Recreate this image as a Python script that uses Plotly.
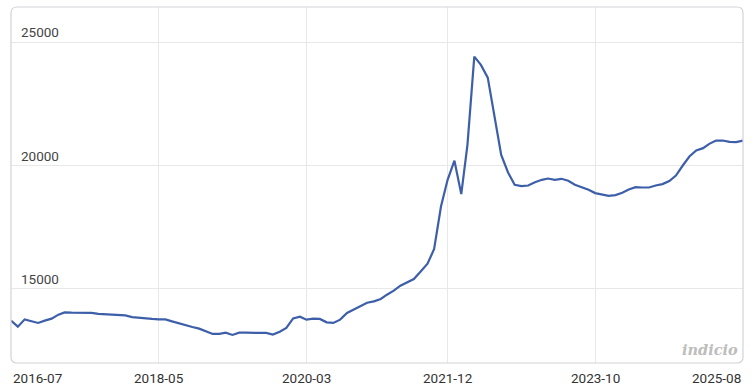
import plotly.graph_objects as go
import pandas as pd

start_month = "2016-07-01"
values = [
    13717, 13474, 13769, 13688, 13623, 13716, 13797, 13959, 14053, 14040,
    14040, 14050, 14028, 13988, 13972, 13959, 13947, 13931, 13860, 13826,
    13797, 13785, 13769, 13769, 13688, 13607, 13514, 13461, 13393, 13299,
    13178, 13178, 13231, 13137, 13231, 13231, 13210, 13218, 13218, 13150,
    13271, 13421, 13810, 13878, 13757, 13797, 13785, 13648, 13623, 13757,
    14028, 14162, 14324, 14445, 14498, 14595, 14769, 14931, 15134, 15267,
    15405, 15713, 16024, 16620, 18344, 19425, 20200, 18846, 20843, 24418,
    24082, 23568, 21988, 20438, 19721, 19223, 19170, 19195, 19328, 19425,
    19478, 19425, 19466, 19385, 19223, 19130, 19020, 18887, 18847, 18778,
    18806, 18899, 19033, 19130, 19114, 19114, 19195, 19251, 19373, 19600,
    20005, 20369, 20612, 20709, 20883, 21017, 21017, 20964, 20952, 21017,
]
dates = pd.date_range(start_month, periods=len(values), freq="MS")

x_tick_vals = ["2016-07-01", "2018-05-01", "2020-03-01", "2021-12-01", "2023-10-01", "2025-08-01"]
x_tick_text = ["2016-07", "2018-05", "2020-03", "2021-12", "2023-10", "2025-08"]
y_tick_vals = [15000, 20000, 25000]
y_tick_text = ["15000", "20000", "25000"]
y_range = [12000, 26430]

fig = go.Figure()
fig.add_trace(go.Scatter(
    x=dates, y=values, mode="lines",
    line=dict(color="#3d5fa9", width=2.2),
    hoverinfo="skip",
))

W, H = 756, 392
ml, mr, mt, mb = 11, 13, 7, 29
pw, ph = W - ml - mr, H - mt - mb

fig.update_layout(
    width=W, height=H,
    margin=dict(l=ml, r=mr, t=mt, b=mb, pad=0),
    paper_bgcolor="white", plot_bgcolor="white",
    showlegend=False,
    font=dict(family="Roboto, sans-serif", size=13, color="#333"),
    xaxis=dict(
        type="date", range=[x_tick_vals[0], x_tick_vals[-1]],
        tickvals=x_tick_vals, showticklabels=False, ticks="",
        showgrid=True, gridcolor="#e8e8e8", gridwidth=1,
        zeroline=False, showline=False, fixedrange=True,
    ),
    yaxis=dict(
        range=y_range, tickvals=y_tick_vals, showticklabels=False, ticks="",
        showgrid=True, gridcolor="#e8e8e8", gridwidth=1,
        zeroline=False, showline=False, fixedrange=True,
    ),
)

annotations = []
n = len(x_tick_vals)
for i, (v, t) in enumerate(zip(x_tick_vals, x_tick_text)):
    anchor = "left" if i == 0 else ("right" if i == n - 1 else "center")
    annotations.append(dict(
        x=v, xref="x", y=0, yref="paper", yanchor="top", xanchor=anchor,
        yshift=-5, text=t, showarrow=False,
        font=dict(family="Roboto, sans-serif", size=13.5, color="#333"),
    ))
for v, t in zip(y_tick_vals, y_tick_text):
    annotations.append(dict(
        x=0, xref="paper", y=v, yref="y", xanchor="left", yanchor="bottom",
        xshift=8, yshift=0, text=t, showarrow=False,
        font=dict(family="Roboto, sans-serif", size=13.5, color="#444"),
    ))
annotations.append(dict(
    x=1, xref="paper", y=0, yref="paper", xanchor="right", yanchor="bottom",
    xshift=-3, yshift=3, text="<b><i>indicio</i></b>", showarrow=False,
    font=dict(family="DejaVu Serif, serif", size=14.5, color="#bdbdbd"),
))
fig.update_layout(annotations=annotations)

# rounded border around the plot area
r = 6
rx, ry = r / pw, r / ph
path = (
    f"M {rx},0 L {1-rx},0 Q 1,0 1,{ry} L 1,{1-ry} Q 1,1 {1-rx},1 "
    f"L {rx},1 Q 0,1 0,{1-ry} L 0,{ry} Q 0,0 {rx},0 Z"
)
fig.add_shape(type="path", path=path, xref="paper", yref="paper",
              line=dict(color="#d3d3da", width=1.2), layer="above")

fig.write_html("out.html")
